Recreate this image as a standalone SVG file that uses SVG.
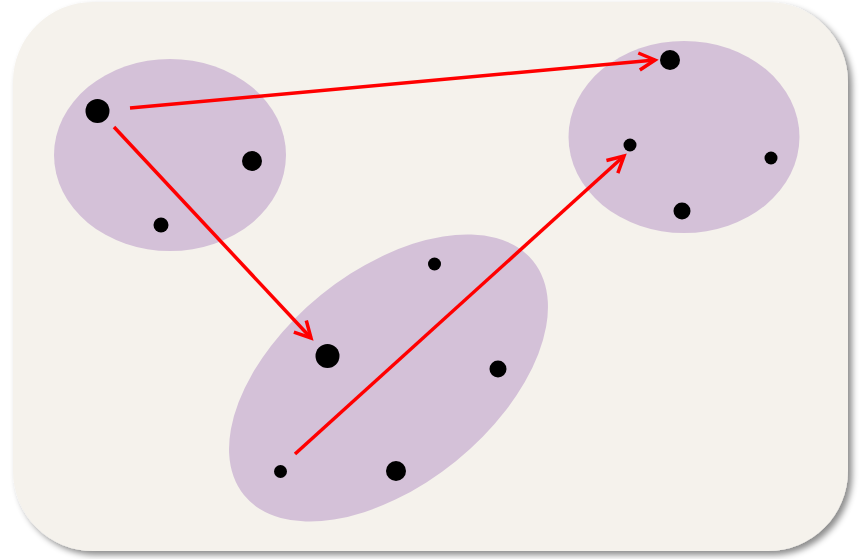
<svg xmlns="http://www.w3.org/2000/svg" width="864" height="559" viewBox="0 0 864 559">
<style>
.bg{fill:#f5f2ec}
.cluster{fill:#d4c1d8}
.dot{fill:#000}
.conn{stroke:#ff0000;stroke-width:3.5;fill:none;stroke-linecap:butt}
</style>
<defs>
<filter id="sh" x="-5%" y="-5%" width="112%" height="115%">
<feDropShadow dx="4" dy="4" stdDeviation="3" flood-color="#000" flood-opacity="0.45"/>
</filter>
<marker id="ah" viewBox="-20 -12 24 24" refX="0" refY="0" markerWidth="24" markerHeight="24" markerUnits="userSpaceOnUse" orient="auto">
<path d="M-16,-8.5 L0,0 L-16,8.5" fill="none" stroke="#ff0000" stroke-width="3.5"/>
</marker>
</defs>
<rect id="background" class="bg" x="13" y="2" width="835" height="549" rx="80" ry="80" filter="url(#sh)"/>
<g id="cluster-a"><ellipse class="cluster" cx="170" cy="155" rx="116" ry="96"/></g>
<g id="cluster-b"><ellipse class="cluster" cx="684" cy="137" rx="115.5" ry="96"/></g>
<g id="cluster-c"><ellipse class="cluster" cx="388.5" cy="378" rx="186" ry="107" transform="rotate(-39 388.5 378)"/></g>
<g id="a1"><circle class="dot" cx="97.5" cy="111" r="12"/></g>
<g id="a2"><circle class="dot" cx="252" cy="161" r="10"/></g>
<g id="a3"><circle class="dot" cx="161" cy="225" r="7.5"/></g>
<g id="b1"><circle class="dot" cx="670" cy="60" r="10"/></g>
<g id="b2"><circle class="dot" cx="630" cy="145" r="6.5"/></g>
<g id="b3"><circle class="dot" cx="771" cy="158" r="6.5"/></g>
<g id="b4"><circle class="dot" cx="682" cy="211" r="8.5"/></g>
<g id="c1"><circle class="dot" cx="434.5" cy="264" r="6.5"/></g>
<g id="c2"><circle class="dot" cx="327.5" cy="356" r="12"/></g>
<g id="c3"><circle class="dot" cx="498" cy="369" r="8.5"/></g>
<g id="c4"><circle class="dot" cx="280.5" cy="471.5" r="6.5"/></g>
<g id="c5"><circle class="dot" cx="396" cy="471" r="10"/></g>
<g id="connectors">
<line class="conn" x1="130" y1="108" x2="655" y2="60" marker-end="url(#ah)"/>
<line class="conn" x1="114" y1="127" x2="311" y2="338" marker-end="url(#ah)"/>
<line class="conn" x1="295" y1="454" x2="624" y2="156" marker-end="url(#ah)"/>
</g>
</svg>
